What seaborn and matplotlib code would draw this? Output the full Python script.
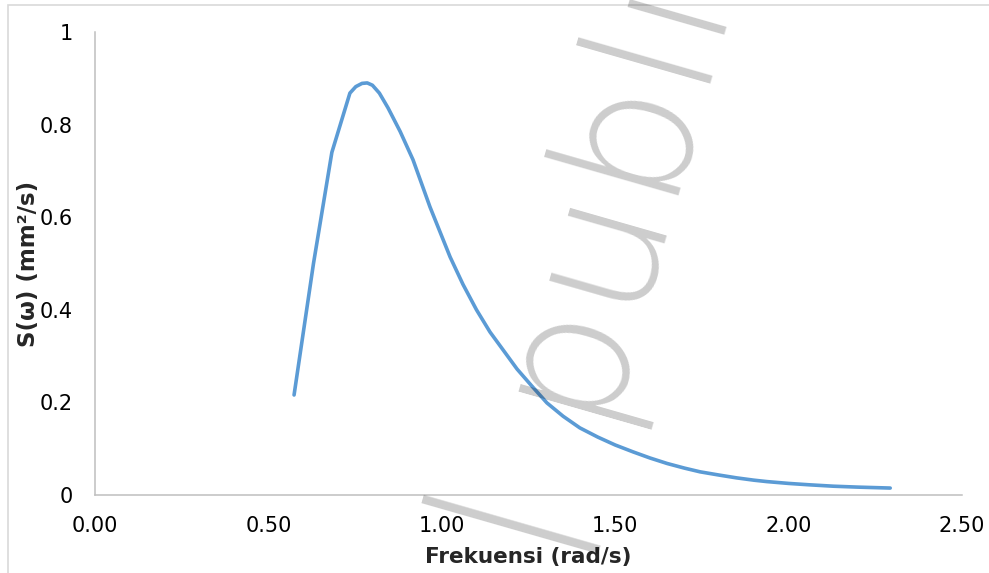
import numpy as np
import pandas as pd
import seaborn as sns
import matplotlib.pyplot as plt
from matplotlib.patches import Rectangle

# frequency (rad/s) and spectral density
frekuensi = [0.574, 0.630, 0.683, 0.735, 0.752, 0.770, 0.785, 0.800, 0.820,
             0.845, 0.880, 0.917, 0.966, 1.024, 1.061, 1.100, 1.139, 1.180,
             1.217, 1.260, 1.303, 1.350, 1.398, 1.450, 1.500, 1.552, 1.600,
             1.650, 1.700, 1.745, 1.800, 1.850, 1.900, 1.937, 2.000, 2.060,
             2.129, 2.200, 2.293]
spektrum = [0.216, 0.500, 0.740, 0.868, 0.882, 0.889, 0.890, 0.885, 0.868,
            0.836, 0.785, 0.724, 0.622, 0.514, 0.455, 0.400, 0.352, 0.310,
            0.272, 0.235, 0.199, 0.170, 0.145, 0.125, 0.108, 0.093, 0.080,
            0.068, 0.058, 0.050, 0.043, 0.037, 0.032, 0.029, 0.025, 0.022,
            0.019, 0.017, 0.015]

x_ticks = [0.0, 0.5, 1.0, 1.5, 2.0, 2.5]
y_ticks = [0, 0.2, 0.4, 0.6, 0.8, 1]
y_labels = ['0', '0.2', '0.4', '0.6', '0.8', '1']

df = pd.DataFrame({'w': frekuensi, 's': spektrum})

sns.set_theme(style='white')
plt.rcParams['font.family'] = ['DejaVu Sans']

fig = plt.figure(figsize=(9.89, 5.73), dpi=100)
ax = fig.add_axes([95/989, 78/573, 867/989, 463/573])

sns.lineplot(data=df, x='w', y='s', sort=False, color='#5B9BD5', lw=2.6, ax=ax)

ax.set_xlim(0, 2.5)
ax.set_ylim(0, 1)
ax.set_xticks(x_ticks)
ax.set_xticklabels([f'{v:.2f}' for v in x_ticks])
ax.set_yticks(y_ticks)
ax.set_yticklabels(y_labels)
ax.tick_params(length=0, labelsize=15, colors='black')
ax.tick_params(axis='x', pad=15)
ax.tick_params(axis='y', pad=16)

for side in ['top', 'right']:
    ax.spines[side].set_visible(False)
for side in ['left', 'bottom']:
    ax.spines[side].set_color('#BFBFBF')
    ax.spines[side].set_linewidth(1.1)

ax.set_xlabel('Frekuensi (rad/s)', fontsize=15.5, fontweight='bold')
ax.set_ylabel('S(ω) (mm²/s)', fontsize=16.5, fontweight='bold')
ax.xaxis.set_label_coords(0.5, -0.112)
ax.yaxis.set_label_coords(-0.063, 0.5)

# chart border
fig.patches.append(Rectangle((7.5/989, -0.1), 1.2, 1.1 - 4.7/573,
                             transform=fig.transFigure, fill=False,
                             edgecolor='#D9D9D9', lw=1.2))

# repository watermark
fig.text(594/989, 1 - 418/573, 'publis', rotation=74, rotation_mode='anchor',
         ha='left', va='baseline', fontsize=132, family='DejaVu Sans',
         fontweight='light', color='black', alpha=0.2, zorder=10)
fig.text(539/989, 1 - 512/573, '|', rotation=74, rotation_mode='anchor',
         ha='center', va='baseline', fontsize=132, family='DejaVu Sans',
         fontweight='light', color='black', alpha=0.2, zorder=10)

fig.savefig('out.png', dpi=100)
